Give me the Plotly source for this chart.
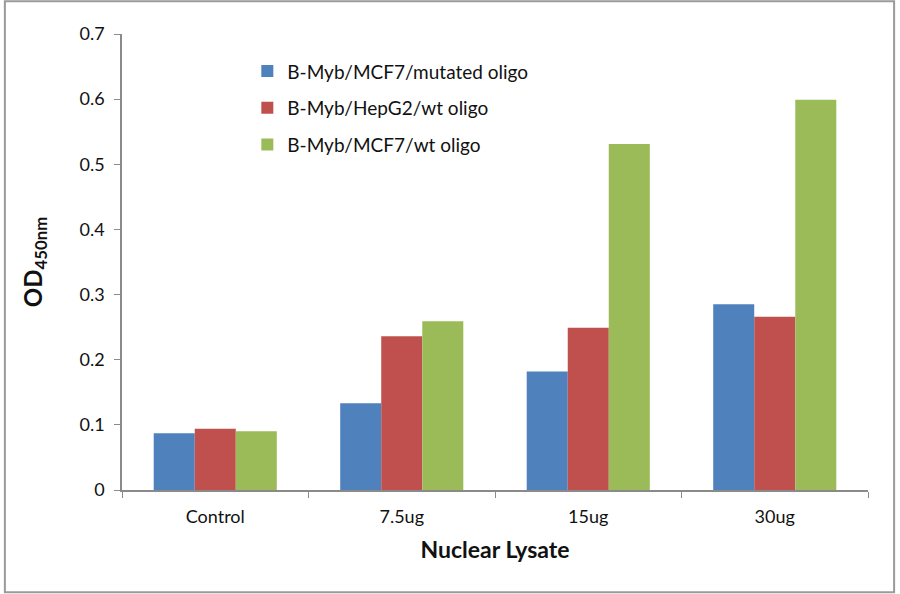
import plotly.graph_objects as go

categories = ["Control", "7.5ug", "15ug", "30ug"]
series_names = ["B-Myb/MCF7/mutated oligo", "B-Myb/HepG2/wt oligo", "B-Myb/MCF7/wt oligo"]
mutated_mcf7 = [0.087, 0.133, 0.182, 0.285]
wt_hepg2 = [0.094, 0.236, 0.249, 0.266]
wt_mcf7 = [0.090, 0.259, 0.531, 0.599]
colors = ["#4f81bd", "#c0504d", "#9bbb59"]

FONT = "Lato, Open Sans, sans-serif"
AXIS_GREY = "#8a8a8a"

fig = go.Figure()
for i, (name, vals, col) in enumerate(zip(series_names, [mutated_mcf7, wt_hepg2, wt_mcf7], colors)):
    fig.add_trace(go.Bar(x=categories, y=vals, name=name, marker_color=col,
                         marker_line_width=0, legendgroup=f"g{i}"))

fig.update_layout(
    width=900, height=594,
    paper_bgcolor="white", plot_bgcolor="white",
    margin=dict(l=122, r=32, t=34, b=104),
    barmode="group", bargap=0.34, bargroupgap=0,
    font=dict(family=FONT, size=18, color="#111111"),
    legend=dict(x=0.168, y=0.96, xanchor="left", yanchor="top",
                font=dict(size=19), tracegroupgap=9, itemwidth=30,
                bgcolor="rgba(0,0,0,0)"),
    shapes=[dict(type="rect", xref="paper", yref="paper",
                 x0=-0.157, x1=1.035, y0=-0.224, y1=1.072,
                 line=dict(color="#9a9a9a", width=2))],
)
fig.update_xaxes(
    showline=True, linecolor=AXIS_GREY, linewidth=1.5,
    ticks="outside", tickson="boundaries", ticklen=6, tickcolor=AXIS_GREY,
    ticklabelstandoff=10,
    title=dict(text="<b>Nuclear Lysate</b>", font=dict(size=23), standoff=16),
    tickfont=dict(size=18),
)
fig.update_yaxes(
    range=[0, 0.7], dtick=0.1, showgrid=False, zeroline=False,
    showline=True, linecolor=AXIS_GREY, linewidth=1.5,
    ticks="outside", ticklen=6, tickcolor=AXIS_GREY,
    ticklabelstandoff=6,
    title=dict(text="<b>OD<sub>450nm</sub></b>", font=dict(size=24), standoff=30),
    tickfont=dict(size=18),
)

fig.write_html("out.html", config={"displayModeBar": False},
               post_script="document.body.style.margin='0';")
